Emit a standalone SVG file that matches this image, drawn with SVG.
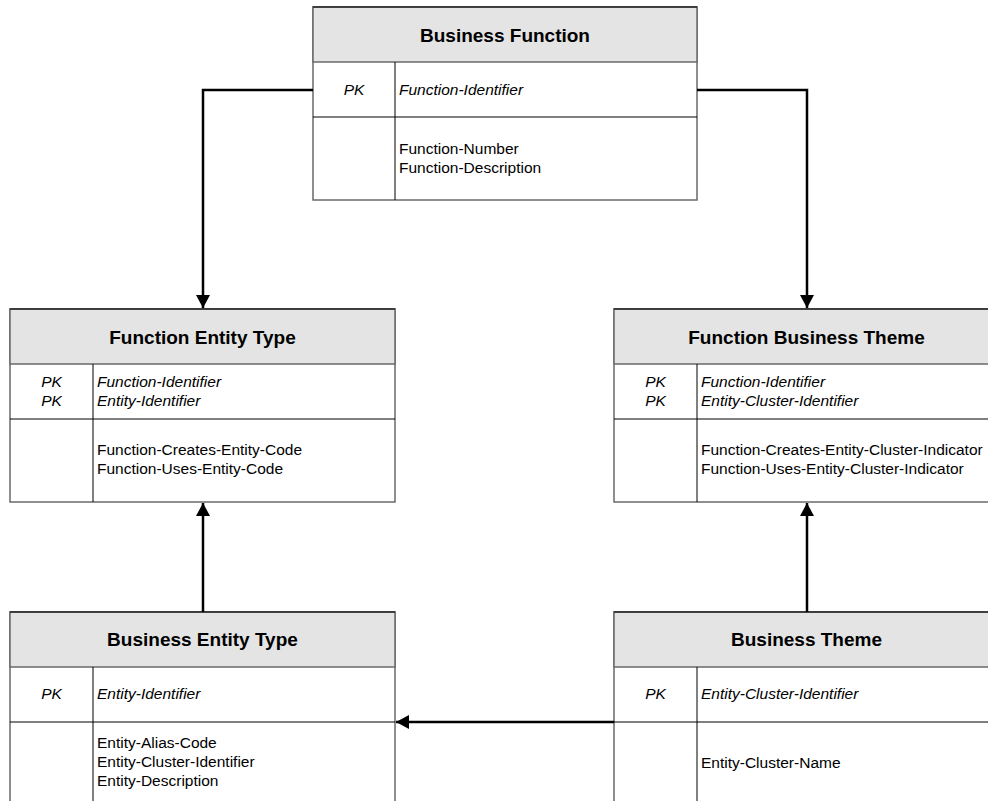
<svg xmlns="http://www.w3.org/2000/svg" width="988" height="801" viewBox="0 0 988 801">
  <defs>
    <style>
      .frame { fill: #ffffff; stroke: #6a6a6a; stroke-width: 1.5; }
      .head { fill: #e4e4e4; stroke: #6a6a6a; stroke-width: 1.5; }
      .topline { stroke: #2a2a2a; stroke-width: 1.5; }
      .rule { stroke: #000000; stroke-width: 1; fill: none; }
      .title { font-family: "Liberation Sans", Arial, sans-serif; font-size: 19px; font-weight: bold; fill: #000; text-anchor: middle; }
      .key { font-family: "Liberation Sans", Arial, sans-serif; font-size: 15.5px; font-style: italic; fill: #000; }
      .pk { font-family: "Liberation Sans", Arial, sans-serif; font-size: 15.5px; font-style: italic; fill: #000; text-anchor: middle; }
      .attr { font-family: "Liberation Sans", Arial, sans-serif; font-size: 15.5px; fill: #000; }
      .link { fill: none; stroke: #000; stroke-width: 2.5; }
    </style>
    <marker id="arrow" markerUnits="userSpaceOnUse" markerWidth="14" markerHeight="14" refX="13" refY="7" orient="auto">
      <path d="M0,0 L13,7 L0,14 Z" fill="#000"/>
    </marker>
  </defs>

  <!-- Business Function -->
  <g id="business-function">
    <rect class="frame" x="313" y="7" width="384" height="193"/>
    <rect class="head" x="313" y="7" width="384" height="55"/>
    <line class="topline" x1="313" y1="7" x2="697" y2="7"/>
    <line class="rule" x1="313" y1="117" x2="697" y2="117"/>
    <line class="rule" x1="395" y1="62" x2="395" y2="200"/>
    <text class="title" x="505" y="41.5">Business Function</text>
    <text class="pk" x="354" y="95">PK</text>
    <text class="key" x="399" y="95">Function-Identifier</text>
    <text class="attr" x="399" y="154">Function-Number</text>
    <text class="attr" x="399" y="173">Function-Description</text>
  </g>

  <!-- Function Entity Type -->
  <g id="function-entity-type">
    <rect class="frame" x="10" y="309" width="385" height="193"/>
    <rect class="head" x="10" y="309" width="385" height="55"/>
    <line class="topline" x1="10" y1="309" x2="395" y2="309"/>
    <line class="rule" x1="10" y1="419" x2="395" y2="419"/>
    <line class="rule" x1="93" y1="364" x2="93" y2="502"/>
    <text class="title" x="202.5" y="343.5">Function Entity Type</text>
    <text class="pk" x="51.5" y="387">PK</text>
    <text class="pk" x="51.5" y="406">PK</text>
    <text class="key" x="97" y="387">Function-Identifier</text>
    <text class="key" x="97" y="406">Entity-Identifier</text>
    <text class="attr" x="97" y="455">Function-Creates-Entity-Code</text>
    <text class="attr" x="97" y="474">Function-Uses-Entity-Code</text>
  </g>

  <!-- Function Business Theme -->
  <g id="function-business-theme">
    <rect class="frame" x="614" y="309" width="385" height="193"/>
    <rect class="head" x="614" y="309" width="385" height="55"/>
    <line class="topline" x1="614" y1="309" x2="999" y2="309"/>
    <line class="rule" x1="614" y1="419" x2="999" y2="419"/>
    <line class="rule" x1="697" y1="364" x2="697" y2="502"/>
    <text class="title" x="806.5" y="343.5">Function Business Theme</text>
    <text class="pk" x="655.5" y="387">PK</text>
    <text class="pk" x="655.5" y="406">PK</text>
    <text class="key" x="701" y="387">Function-Identifier</text>
    <text class="key" x="701" y="406">Entity-Cluster-Identifier</text>
    <text class="attr" x="701" y="455">Function-Creates-Entity-Cluster-Indicator</text>
    <text class="attr" x="701" y="474">Function-Uses-Entity-Cluster-Indicator</text>
  </g>

  <!-- Business Entity Type -->
  <g id="business-entity-type">
    <rect class="frame" x="10" y="612" width="385" height="196"/>
    <rect class="head" x="10" y="612" width="385" height="55"/>
    <line class="topline" x1="10" y1="612" x2="395" y2="612"/>
    <line class="rule" x1="10" y1="722" x2="395" y2="722"/>
    <line class="rule" x1="93" y1="667" x2="93" y2="808"/>
    <text class="title" x="202.5" y="646">Business Entity Type</text>
    <text class="pk" x="51.5" y="698.5">PK</text>
    <text class="key" x="97" y="698.5">Entity-Identifier</text>
    <text class="attr" x="97" y="747.5">Entity-Alias-Code</text>
    <text class="attr" x="97" y="766.5">Entity-Cluster-Identifier</text>
    <text class="attr" x="97" y="785.5">Entity-Description</text>
  </g>

  <!-- Business Theme -->
  <g id="business-theme">
    <rect class="frame" x="614" y="612" width="385" height="196"/>
    <rect class="head" x="614" y="612" width="385" height="55"/>
    <line class="topline" x1="614" y1="612" x2="999" y2="612"/>
    <line class="rule" x1="614" y1="722" x2="999" y2="722"/>
    <line class="rule" x1="697" y1="667" x2="697" y2="808"/>
    <text class="title" x="806.5" y="646">Business Theme</text>
    <text class="pk" x="655.5" y="698.5">PK</text>
    <text class="key" x="701" y="698.5">Entity-Cluster-Identifier</text>
    <text class="attr" x="701" y="768">Entity-Cluster-Name</text>
  </g>

  <!-- Relationships -->
  <g id="connectors">
    <path class="link" d="M313,90 H203 V308" marker-end="url(#arrow)"/>
    <path class="link" d="M697,90 H807 V308" marker-end="url(#arrow)"/>
    <path class="link" d="M203,612 V503" marker-end="url(#arrow)"/>
    <path class="link" d="M807,612 V503" marker-end="url(#arrow)"/>
    <path class="link" d="M614,722 H396" marker-end="url(#arrow)"/>
  </g>
</svg>
